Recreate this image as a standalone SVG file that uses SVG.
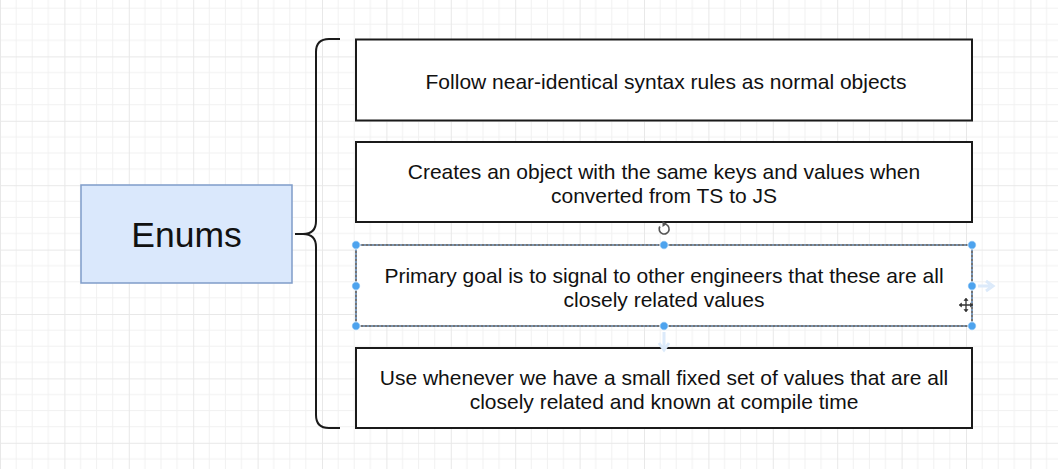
<svg xmlns="http://www.w3.org/2000/svg" width="1058" height="469" viewBox="0 0 1058 469">
<style>
.box{fill:#ffffff;stroke:#1a1a1a;stroke-width:2}
.t{font-family:"Liberation Sans",Arial,Helvetica,sans-serif;font-size:21px;fill:#111111;text-anchor:middle}
.h{fill:#4da3ee;stroke:#ffffff;stroke-width:0.8}
</style>
<defs>
<pattern id="g" patternUnits="userSpaceOnUse" x="0" y="-8" width="64.4" height="64.4">
<path d="M16.1,0V64.4M32.2,0V64.4M48.3,0V64.4M0,16.1H64.4M0,32.2H64.4M0,48.3H64.4" stroke="#f1f1f1" stroke-width="1" fill="none"/>
<path d="M0.5,0V64.4M0,0.5H64.4" stroke="#e8e8e8" stroke-width="1" fill="none"/>
</pattern>
</defs>
<rect width="1058" height="469" fill="#ffffff"/>
<rect width="1058" height="469" fill="url(#g)"/>

<g id="connectors">
<path d="M340,39 H329 Q316,39 316,52 V221 Q316,234 303,234 H295 M303,234 Q316,234 316,247 V415 Q316,428 329,428 H340" fill="none" stroke="#1a1a1a" stroke-width="2"/>
</g>

<g id="enums">
<rect x="81" y="185" width="211" height="98" fill="#dae8fc" stroke="#7f9cc9" stroke-width="1.5"/>
<text x="186.5" y="246.5" font-family="'Liberation Sans',Arial,Helvetica,sans-serif" font-size="35.5" fill="#111111" text-anchor="middle">Enums</text>
</g>

<g id="box1">
<rect class="box" x="356" y="39.5" width="616" height="81"/>
<text class="t" x="666" y="89">Follow near-identical syntax rules as normal objects</text>
</g>

<g id="box2">
<rect class="box" x="356" y="142" width="616" height="80"/>
<text class="t" x="664" y="179">Creates an object with the same keys and values when</text>
<text class="t" x="664" y="203">converted from TS to JS</text>
</g>

<g id="box3">
<rect x="356" y="245" width="616" height="81" fill="#ffffff" stroke="#1a1a1a" stroke-width="1.2"/>
<rect x="356" y="245" width="616" height="81" fill="none" stroke="#7fb0e8" stroke-width="1.2" stroke-dasharray="2 2"/>
<text class="t" x="664" y="283">Primary goal is to signal to other engineers that these are all</text>
<text class="t" x="664" y="307">closely related values</text>
</g>

<g id="box4">
<rect class="box" x="356" y="348" width="616" height="80"/>
<text class="t" x="664" y="385">Use whenever we have a small fixed set of values that are all</text>
<text class="t" x="664" y="409">closely related and known at compile time</text>
</g>

<g id="selection">
<path d="M978,286 H990 M986,281 L993,286 L986,291" fill="none" stroke="#dceafa" stroke-width="3"/>
<path d="M664,332 V348 M659,343 L664,350 L669,343" fill="none" stroke="#dceafa" stroke-width="3"/>
<circle class="h" cx="356" cy="245" r="4.2"/>
<circle class="h" cx="664" cy="245" r="4.2"/>
<circle class="h" cx="972" cy="245" r="4.2"/>
<circle class="h" cx="356" cy="286" r="4.2"/>
<circle class="h" cx="972" cy="286" r="4.2"/>
<circle class="h" cx="356" cy="326" r="4.2"/>
<circle class="h" cx="664" cy="326" r="4.2"/>
<circle class="h" cx="972" cy="326" r="4.2"/>
<path d="M659.8,226.5 A5,5 0 1 0 664,224" fill="none" stroke="#555555" stroke-width="1.7"/>
<path d="M662.5,221 L667,223.9 L662.5,227 Z" fill="#555555"/>
<g stroke="#ffffff" stroke-width="3" fill="none">
<path d="M966,299 V311 M960,305 H972"/>
</g>
<g stroke="#333333" stroke-width="1.3" fill="#333333">
<path d="M966,299 V311 M960,305 H972" fill="none"/>
<path d="M966,298 L964,300.5 H968 Z M966,312 L964,309.5 H968 Z M959,305 L961.5,303 V307 Z M973,305 L970.5,303 V307 Z" stroke-width="0.6"/>
</g>
</g>
</svg>
